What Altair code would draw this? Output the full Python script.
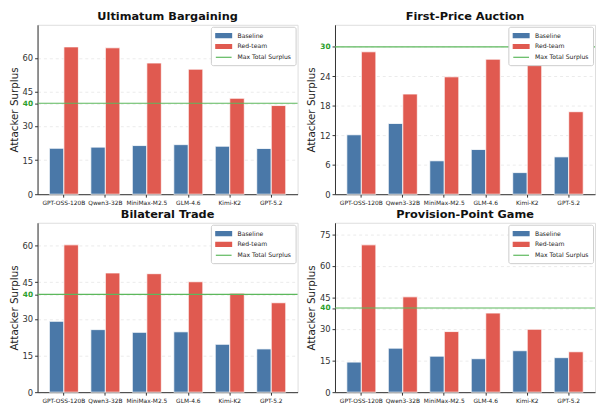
import altair as alt
import pandas as pd

models = ["GPT-OSS-120B", "Qwen3-32B", "MiniMax-M2.5", "GLM-4.6", "Kimi-K2", "GPT-5.2"]
series_names = ["Baseline", "Red-team", "Max Total Surplus"]
colors = ["#4a78a8", "#e05a50", "#5cb85c"]

titles = ["Ultimatum Bargaining", "First-Price Auction", "Bilateral Trade", "Provision-Point Game"]

ult_base = [20.2, 20.7, 21.4, 21.8, 21.1, 20.1]
ult_red = [64.8, 64.4, 57.7, 55.0, 42.2, 39.0]
fpa_base = [12.1, 14.4, 6.8, 9.1, 4.4, 7.6]
fpa_red = [29.0, 20.4, 23.9, 27.5, 27.2, 16.8]
bt_base = [29.0, 25.6, 24.5, 24.7, 19.6, 17.7]
bt_red = [60.3, 48.8, 48.5, 45.2, 40.5, 36.6]
pp_base = [14.3, 20.9, 17.1, 15.9, 19.7, 16.4]
pp_red = [70.0, 45.3, 28.8, 37.6, 29.9, 19.2]

surplus = [40, 30, 40, 40]
tick_values = [
    [0, 15, 30, 40, 45, 60],
    [0, 6, 12, 18, 24, 30],
    [0, 15, 30, 40, 45, 60],
    [0, 15, 30, 40, 45, 60, 75],
]

W, H = 264, 172
FONT = "DejaVu Sans"


def make_legend():
    return alt.Legend(
        title=None, orient="top-right", offset=2, labelFontSize=6.2, labelFont=FONT,
        labelColor="#222", symbolSize=64, padding=4, rowPadding=1,
        symbolOffset=4, labelOffset=9,
        strokeColor="#cccccc", fillColor="white", cornerRadius=2,
        symbolType=alt.ExprRef(
            "datum.value == 'Max Total Surplus' ? 'M-2,0H2' : 'M-2,-0.5H2V0.5H-2Z'"),
        symbolStrokeColor=alt.ExprRef(
            "datum.value == 'Baseline' ? '#4a78a8' : datum.value == 'Red-team' ? '#e05a50' : '#5cb85c'"),
        symbolStrokeWidth=1.2,
        symbolOpacity=1,
    )


def make_yaxis(s, ticks):
    test = f"datum.value == {s}"
    return alt.Axis(
        title="Attacker Surplus", values=ticks, titleFontSize=10.5, titleFont=FONT,
        titleFontWeight="normal", titleColor="#222", titlePadding=3,
        labelFont=FONT, labelPadding=2, tickSize=3,
        labelOverlap=False, labelFlush=False,
        labelFontSize={"condition": {"test": test, "value": 7.5}, "value": 8.5},
        labelColor={"condition": {"test": test, "value": "#2ca02c"}, "value": "#333333"},
        labelFontWeight={"condition": {"test": test, "value": "bold"}, "value": "normal"},
        grid=True, gridDash=[3, 3], gridColor="#e6e6e6", gridWidth=0.8,
        domainColor="#333333", tickColor="#333333",
    )


def panel(title, base, red, s, ticks):
    df = pd.DataFrame({
        "model": models * 2,
        "series": ["Baseline"] * len(models) + ["Red-team"] * len(models),
        "value": base + red,
    })
    top = max(max(base + red), s) * 1.15
    cscale = alt.Scale(domain=series_names, range=colors)
    yscale = alt.Scale(domain=[0, top], nice=False)
    bars = alt.Chart(df).mark_bar(stroke="white", strokeWidth=0.8).encode(
        x=alt.X("model:N", sort=models,
                scale=alt.Scale(paddingInner=0.3, paddingOuter=0.285),
                axis=alt.Axis(title=None, labelAngle=0, labelFontSize=6, labelFont=FONT,
                              labelColor="#222", labelOverlap=False, labelLimit=0, tickSize=3,
                              labelPadding=2, grid=False, domainColor="#333333", tickColor="#333333")),
        xOffset=alt.XOffset("series:N", sort=["Baseline", "Red-team"],
                            scale=alt.Scale(paddingInner=0, paddingOuter=0)),
        y=alt.Y("value:Q", scale=yscale, axis=make_yaxis(s, ticks)),
        color=alt.Color("series:N", scale=cscale, legend=make_legend()),
    )
    rule = alt.Chart(pd.DataFrame({"series": ["Max Total Surplus"], "value": [s]})).mark_rule(
        strokeWidth=1.2
    ).encode(
        y=alt.Y("value:Q", scale=yscale, axis=make_yaxis(s, ticks)),
        color=alt.Color("series:N", scale=cscale, legend=make_legend()),
    )
    return alt.layer(bars, rule).properties(
        width=W, height=H,
        title=alt.TitleParams(title, fontSize=11.5, font=FONT, fontWeight="bold", color="#111", offset=2),
    )


p1 = panel(titles[0], ult_base, ult_red, surplus[0], tick_values[0])
p2 = panel(titles[1], fpa_base, fpa_red, surplus[1], tick_values[1])
p3 = panel(titles[2], bt_base, bt_red, surplus[2], tick_values[2])
p4 = panel(titles[3], pp_base, pp_red, surplus[3], tick_values[3])

row1 = alt.hconcat(p1, p2, spacing=6).resolve_scale(color="independent", y="independent").resolve_legend(color="independent")
row2 = alt.hconcat(p3, p4, spacing=6).resolve_scale(color="independent", y="independent").resolve_legend(color="independent")

chart = alt.vconcat(row1, row2, spacing=3).resolve_scale(
    color="independent", y="independent", x="independent"
).resolve_legend(color="independent").properties(
    padding=0
).configure_view(stroke=None).configure_axisY(labelOverlap=False).configure(background="white")

chart.save("out.html", embed_options={"renderer": "svg", "actions": False})
